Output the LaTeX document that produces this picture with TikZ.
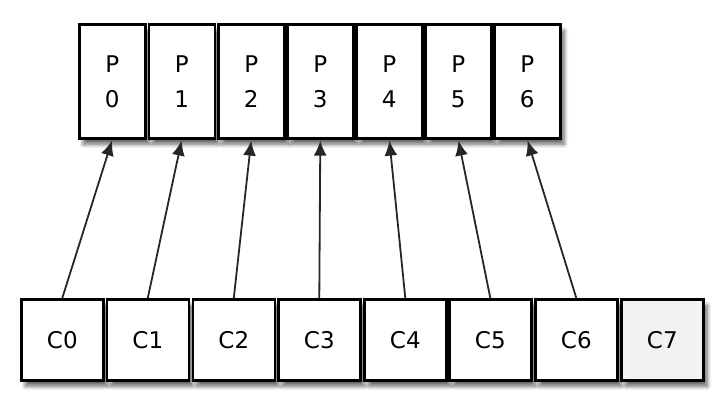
\documentclass[tikz,border=0pt]{standalone}
\usepackage{fontspec}
\setmainfont{DejaVu Sans}
\usetikzlibrary{arrows.meta,shadows.blur}
\definecolor{lightbox}{HTML}{F2F2F2}
\tikzset{
  box/.style={draw=black, line width=2.6pt, fill=white, inner sep=0pt, anchor=north west,
    blur shadow={shadow xshift=4pt, shadow yshift=-6pt, shadow blur steps=6, shadow opacity=60, shadow blur radius=4pt},
    font=\fontsize{23}{35}\selectfont},
  pbox/.style={box, minimum width=66pt, minimum height=114pt, align=center},
  cbox/.style={box, minimum width=82pt, minimum height=81pt},
  arr/.style={draw=black!85, line width=1.8pt, -{Latex[length=15pt,width=13pt]}, shorten >=1pt}
}
\begin{document}
\begin{tikzpicture}[x=1pt,y=-1pt]
\useasboundingbox (0,0) rectangle (721,403);
\foreach \i/\l in {0/78,1/147.5,2/217,3/286,4/355,5/424,6/493}{
  \node[pbox] (p\i) at (\l,23) {P\\\i};
}
\foreach \i/\l in {0/20,1/105.5,2/191.5,3/277,4/363,5/448,6/534}{
  \node[cbox] (c\i) at (\l,298) {C\i};
}
\node[cbox, fill=lightbox] (c7) at (620,298) {C7};
\foreach \i in {0,...,6}{
  \draw[arr] (c\i.north) -- (p\i.south);
}
\end{tikzpicture}
\end{document}
